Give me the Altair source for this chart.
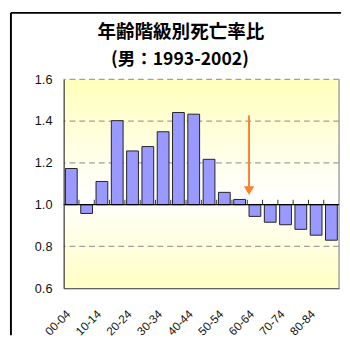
import altair as alt
import pandas as pd

# ---- data ----
categories = ["00-04", "05-09", "10-14", "15-19", "20-24", "25-29", "30-34", "35-39",
              "40-44", "45-49", "50-54", "55-59", "60-64", "65-69", "70-74", "75-79",
              "80-84", "85-"]
ratios = [1.173, 0.958, 1.111, 1.402, 1.257, 1.278, 1.349, 1.441, 1.433, 1.217,
          1.059, 1.025, 0.944, 0.916, 0.904, 0.882, 0.854, 0.830]
label_categories = categories[::2]
y_ticks = [0.6, 0.8, 1.0, 1.2, 1.4, 1.6]
grid_values = [0.8, 1.2, 1.4, 1.6]
baseline = 1.0
arrow_category = "60-64"
arrow_top = 1.427
arrow_tip = 1.067
title_lines = ["年齢階級別死亡率比", "(男：1993-2002)"]

W, H = 282, 214
step = W / len(categories)

df = pd.DataFrame({"cat": categories, "ratio": ratios, "base": baseline})

xscale = alt.Scale(domain=categories, paddingInner=0.23, paddingOuter=0.115)
yscale = alt.Scale(domain=[0.6, 1.6], nice=False, zero=False)

x_axis = alt.Axis(values=label_categories, labelAngle=-45, labelAlign="right",
                  labelBaseline="middle", labelPadding=24, labelOffset=-3,
                  labelFontSize=12, labelFont="Liberation Sans", labelColor="#111",
                  ticks=False, domainColor="#333", domainWidth=1.2, title=None,
                  zindex=1, grid=False)
y_axis = alt.Axis(values=y_ticks, format=".1f", labelFontSize=13,
                  labelFont="Liberation Sans", labelColor="#111", labelPadding=12,
                  ticks=False, domainColor="#333", domainWidth=1.2, title=None,
                  zindex=1, grid=False)

base = alt.Chart(df)
one = pd.DataFrame({"a": [0]})

background = alt.Chart(one).mark_rect(
    fill=alt.LinearGradient(
        gradient="linear", x1=0, x2=0, y1=0, y2=1,
        stops=[alt.GradientStop(offset=0, color="#FFFFBC"),
               alt.GradientStop(offset=0.56, color="#FFFFFF"),
               alt.GradientStop(offset=1, color="#FFFFC4")])
).encode(
    x=alt.value(0), x2=alt.value(W),
    y=alt.datum(1.6, scale=yscale, axis=y_axis), y2=alt.datum(0.6)
)

grid = alt.Chart(pd.DataFrame({"g": grid_values})).mark_rule(
    color="#A0A0A0", strokeWidth=1.3, strokeDash=[6, 4]
).encode(y=alt.Y("g:Q", scale=yscale))

right_border = alt.Chart(one).mark_rule(
    color="#A0A0A0", strokeWidth=1.5
).encode(x=alt.value(W), y=alt.datum(1.6, scale=yscale), y2=alt.datum(0.6))

bars = base.mark_bar(color="#9999FF", stroke="#222222", strokeWidth=1).encode(
    x=alt.X("cat:N", scale=xscale, axis=x_axis, sort=categories),
    y=alt.Y("ratio:Q", scale=yscale),
    y2="base:Q",
)

base_rule = alt.Chart(one).mark_rule(
    color="#000000", strokeWidth=1.3
).encode(x=alt.value(0), x2=alt.value(W), y=alt.datum(baseline, scale=yscale))

ticks = alt.Chart(pd.DataFrame({"cat": categories[1:], "base": baseline})).mark_rule(
    color="#333333", strokeWidth=1, xOffset=-step * 0.115, y2Offset=-5
).encode(
    x=alt.X("cat:N", scale=xscale, bandPosition=0),
    y=alt.Y("base:Q", scale=yscale), y2="base:Q",
)

arrow_df = pd.DataFrame({"cat": [arrow_category], "top": [arrow_top], "tip": [arrow_tip]})
arrow_line = alt.Chart(arrow_df).mark_rule(color="#FF7F2A", strokeWidth=2).encode(
    x=alt.X("cat:N", scale=xscale, bandPosition=0),
    y=alt.Y("top:Q", scale=yscale), y2="tip:Q",
)
arrow_head = alt.Chart(arrow_df).mark_point(
    shape="triangle-down", filled=True, color="#FF7F2A", size=110, opacity=1
).encode(
    x=alt.X("cat:N", scale=xscale, bandPosition=0),
    y=alt.Y("tip:Q", scale=yscale),
)

title_df = pd.DataFrame({"t": title_lines})
title1 = alt.Chart(title_df.iloc[[0]]).mark_text(
    font="Noto Sans CJK JP", fontWeight="bold", fontSize=19, baseline="middle",
    align="center", color="#000"
).encode(text="t:N", x=alt.value(120), y=alt.value(-48))
title2 = alt.Chart(title_df.iloc[[1]]).mark_text(
    font="Noto Sans CJK JP", fontWeight="bold", fontSize=18, baseline="middle",
    align="center", color="#000"
).encode(text="t:N", x=alt.value(119), y=alt.value(-20))

frame_top = alt.Chart(one).mark_rule(color="#000000", strokeWidth=2).encode(
    x=alt.value(-54), x2=alt.value(284), y=alt.value(-68))
frame_left = alt.Chart(one).mark_rule(color="#000000", strokeWidth=2).encode(
    x=alt.value(-54), y=alt.value(-68), y2=alt.value(262))

chart = alt.layer(
    background, grid, right_border, bars, base_rule, ticks, arrow_line, arrow_head,
    title1, title2, frame_top, frame_left
).properties(
    width=W, height=H,
    padding={"left": 2, "top": 0, "right": 0, "bottom": 0},
    background="white",
).configure_view(stroke=None)

chart.save("out.html", embed_options={"renderer": "svg", "actions": False})
